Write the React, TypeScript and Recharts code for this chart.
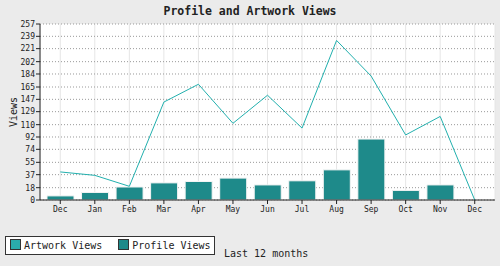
import {
  Bar,
  CartesianGrid,
  ComposedChart,
  Line,
  XAxis,
  YAxis,
} from "recharts";

const months = ["Dec", "Jan", "Feb", "Mar", "Apr", "May", "Jun", "Jul", "Aug", "Sep", "Oct", "Nov", "Dec"];
const profileViews = [6, 11, 19, 25, 27, 32, 22, 28, 44, 89, 14, 22, 0];
const artworkViews = [41, 36, 20, 143, 169, 112, 153, 105, 233, 181, 95, 122, 0];
const yTicks = [0, 18, 37, 55, 74, 92, 110, 129, 147, 165, 184, 202, 221, 239, 257];

const FONT = "'DejaVu Sans Mono', monospace";
const TEXT = "#222";
const BAR_COLOR = "#1e8a8a";
const LINE_COLOR = "#22b0ae";

function ViewsLabel(props: any) {
  const vb = props.viewBox || {};
  const cx = 13;
  const cy = vb.y + vb.height / 2;
  return (
    <text
      x={cx}
      y={cy}
      transform={`rotate(-90 ${cx} ${cy})`}
      textAnchor="middle"
      dominantBaseline="central"
      fontSize={10}
      fontFamily={FONT}
      fill={TEXT}
    >
      Views
    </text>
  );
}

function Swatch({ color }: { color: string }) {
  return (
    <span
      style={{
        display: "inline-block",
        width: 9,
        height: 9,
        background: color,
        border: "1px solid #333",
        marginRight: 3,
        verticalAlign: "-1px",
      }}
    />
  );
}

export default function App() {
  const data = months.map((m, i) => ({
    month: m,
    profile: profileViews[i],
    artwork: artworkViews[i],
  }));

  return (
    <div
      style={{
        position: "fixed",
        left: 0,
        top: 0,
        width: 500,
        height: 266,
        background: "#ebebeb",
        fontFamily: FONT,
        color: TEXT,
      }}
    >
      <div
        style={{
          position: "absolute",
          top: 4,
          left: 0,
          width: 500,
          textAlign: "center",
          fontSize: 11.5,
          fontWeight: "bold",
        }}
      >
        Profile and Artwork Views
      </div>

      <div style={{ position: "absolute", left: 0, top: 0 }}>
        <ComposedChart
          width={500}
          height={266}
          data={data}
          margin={{ top: 24, right: 5, bottom: 46, left: 12 }}
        >
          <CartesianGrid horizontal={false} stroke="#e6e6e6" fill="#fff" />
          <CartesianGrid vertical={false} stroke="#999" strokeDasharray="1 2" />

          <XAxis
            dataKey="month"
            interval={0}
            padding={{ left: 3, right: 3 }}
            height={20}
            tickSize={4}
            stroke={TEXT}
            tick={{ fontSize: 8, fill: TEXT, fontFamily: FONT }}
          />
          <XAxis
            xAxisId="top"
            orientation="top"
            dataKey="month"
            height={0}
            tick={false}
            tickLine={false}
            stroke="#a8a8a8"
          />

          <YAxis
            domain={[0, 257]}
            ticks={yTicks}
            interval={0}
            width={28}
            tickSize={4}
            tickMargin={1}
            stroke={TEXT}
            tick={{ fontSize: 8, fill: TEXT, fontFamily: FONT }}
            label={<ViewsLabel />}
          />
          <YAxis
            yAxisId="right"
            orientation="right"
            width={0}
            tick={false}
            tickLine={false}
            stroke="#a8a8a8"
          />

          <Bar
            dataKey="profile"
            name="Profile Views"
            fill={BAR_COLOR}
            stroke="#f4f4f4"
            strokeWidth={1}
            barSize={27}
            isAnimationActive={false}
          />
          <Line
            type="linear"
            dataKey="artwork"
            name="Artwork Views"
            stroke={LINE_COLOR}
            strokeWidth={1}
            dot={false}
            isAnimationActive={false}
          />
        </ComposedChart>
      </div>

      <div
        style={{
          position: "absolute",
          left: 5,
          top: 236,
          width: 204,
          height: 17,
          border: "1px solid #333",
          background: "#fff",
          fontSize: 10,
          lineHeight: "17px",
          paddingLeft: 4,
          whiteSpace: "nowrap",
        }}
      >
        <Swatch color="#2aacac" />
        Artwork Views
        <span style={{ display: "inline-block", width: 16 }} />
        <Swatch color={BAR_COLOR} />
        Profile Views
      </div>
      <div
        style={{
          position: "absolute",
          left: 224,
          top: 248,
          fontSize: 10,
          lineHeight: "12px",
          whiteSpace: "nowrap",
        }}
      >
        Last 12 months
      </div>
    </div>
  );
}
